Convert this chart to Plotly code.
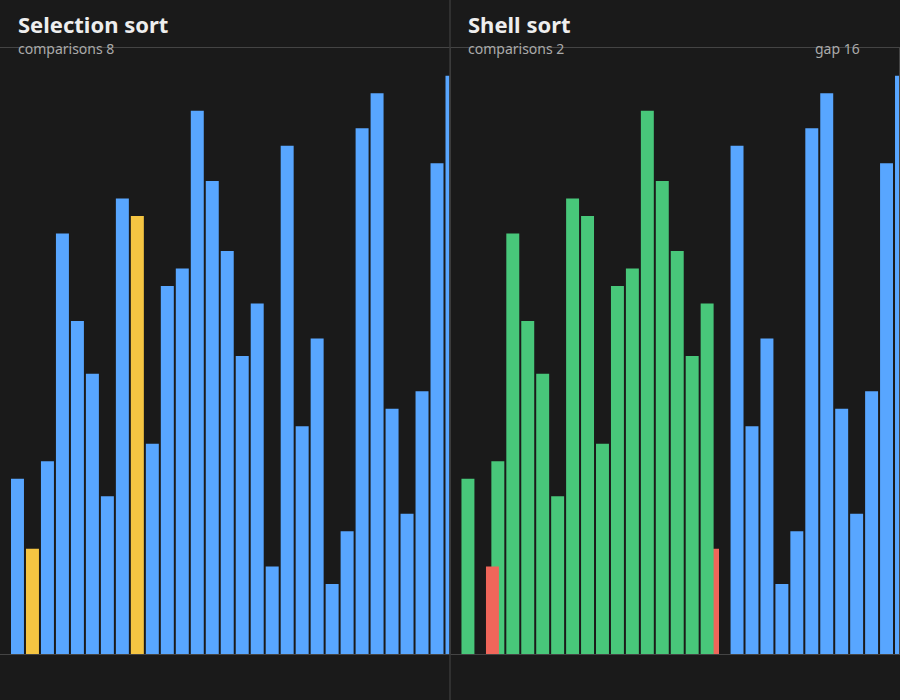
import plotly.graph_objects as go

# ---- data ----
values = [10, 6, 11, 24, 19, 16, 9, 26, 25, 12, 21, 22, 31, 27, 23,
          17, 20, 5, 29, 13, 18, 4, 7, 30, 32, 14, 8, 15, 28, 33]
titles = ["Selection sort", "Shell sort"]
left_comparisons = 8
right_comparisons = 2
shell_gap = 16
selection_highlight = [1, 8]        # indices being compared (yellow)
shell_swap = (1, 17)                # indices being swapped (red)
shell_swap_progress = 0.96          # animation progress of the swap
shell_done_upto = 16                # green region 0..16

BG = "#1a1a1a"
BLUE = "#58a6ff"
YELLOW = "#f5c542"
GREEN = "#48c77a"
RED = "#f0665a"
LINE = "#444444"

W, H = 900, 700
n = len(values)
idx = list(range(n))

# selection panel
sel_colors = [YELLOW if i in selection_highlight else BLUE for i in idx]

# shell panel: positions with animated swap
a, b = shell_swap
shell_x = []
shell_colors = []
for i in idx:
    if i == a:
        shell_x.append(a + (b - a) * shell_swap_progress)
        shell_colors.append(RED)
    elif i == b:
        shell_x.append(b - (b - a) * shell_swap_progress)
        shell_colors.append(RED)
    else:
        shell_x.append(i)
        shell_colors.append(GREEN if i <= shell_done_upto else BLUE)

fig = go.Figure()
fig.add_trace(go.Bar(x=idx, y=values, width=13 / 15,
                     marker=dict(color=sel_colors, line=dict(width=0)),
                     xaxis="x", yaxis="y", hoverinfo="skip"))
fig.add_trace(go.Bar(x=shell_x, y=values, width=13 / 15,
                     marker=dict(color=shell_colors, line=dict(width=0)),
                     xaxis="x2", yaxis="y2", hoverinfo="skip"))

x0 = -17.5 / 15
xr = [x0, x0 + 30]
ymax = max(values) * 1.048
ydom = [46 / H, 652 / H]

axis_common = dict(showline=True, mirror=True, linecolor=LINE, linewidth=1,
                   showgrid=False, zeroline=False, showticklabels=False,
                   ticks="", fixedrange=True)

fig.update_layout(
    width=W, height=H, autosize=False,
    margin=dict(l=0, r=0, t=0, b=0),
    paper_bgcolor=BG, plot_bgcolor=BG,
    showlegend=False, barmode="overlay",
    xaxis=dict(domain=[0, 449.5 / W], range=xr, **axis_common),
    yaxis=dict(domain=ydom, range=[0, ymax], **axis_common),
    xaxis2=dict(domain=[450.5 / W, 899 / W], range=xr, anchor="y2", **axis_common),
    yaxis2=dict(domain=ydom, range=[0, ymax], anchor="x2", **axis_common),
    font=dict(family="Noto Sans, Open Sans, sans-serif"),
)

def px_x(p):
    return p / W

def px_y(p):
    return 1 - p / H

ann = []
for k, (t, cmp) in enumerate(zip(titles, [left_comparisons, right_comparisons])):
    ox = 16 + 450 * k
    ann.append(dict(text="<b>%s</b>" % t, x=px_x(ox), y=px_y(23.5), xref="paper", yref="paper",
                    xanchor="left", yanchor="middle", showarrow=False,
                    font=dict(size=22, color="#eeeeee")))
    ann.append(dict(text="comparisons %d" % cmp, x=px_x(ox), y=px_y(48.5), xref="paper", yref="paper",
                    xanchor="left", yanchor="middle", showarrow=False,
                    font=dict(size=14, color="#aaaaaa")))
ann.append(dict(text="gap %d" % shell_gap, x=px_x(862), y=px_y(48.5), xref="paper", yref="paper",
                xanchor="right", yanchor="middle", showarrow=False,
                font=dict(size=14, color="#aaaaaa")))
fig.update_layout(annotations=ann)

fig.add_shape(type="line", xref="paper", yref="paper", x0=0.5, x1=0.5, y0=0, y1=1,
              line=dict(color="#383838", width=1.5), layer="above")

fig.write_html("out.html")
